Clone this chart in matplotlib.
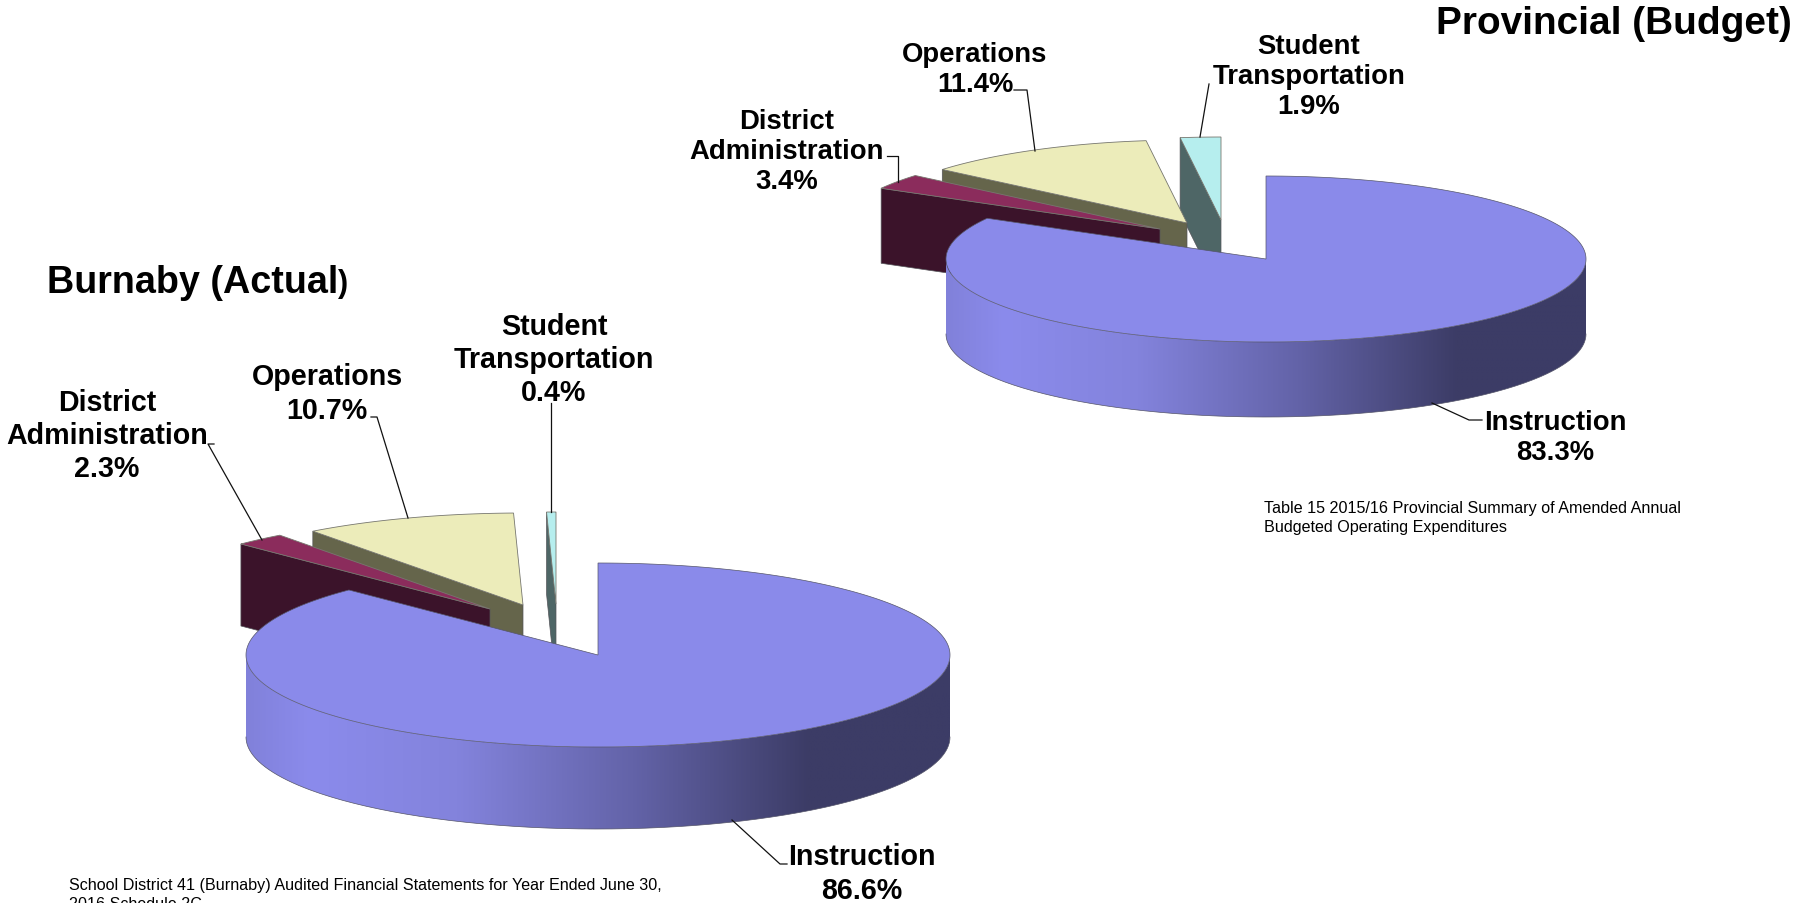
import numpy as np
import matplotlib
matplotlib.use('Agg')
import matplotlib.pyplot as plt
from matplotlib.colors import LinearSegmentedColormap
from matplotlib.patches import Polygon

plt.rcParams['font.family'] = ['Liberation Sans', 'DejaVu Sans']

# Data
categories = ['Instruction', 'District\nAdministration', 'Operations', 'Student\nTransportation']
burnaby_values = [86.6, 2.3, 10.7, 0.4]
provincial_values = [83.3, 3.4, 11.4, 1.9]

top_colors = ['#8a8aea', '#8b2c5c', '#ececba', '#b6eeee']
wall_colors = [None, '#3b132a', '#65654b', '#4e6666']
rim_cmap = LinearSegmentedColormap.from_list('rim', [
    (0.0, '#8181da'), (0.09, '#8b8bec'), (0.3, '#8383dc'),
    (0.55, '#6363a8'), (0.8, '#3c3c66'), (1.0, '#3c3c66')])

fig = plt.figure(figsize=(17.99, 9.04), dpi=100)
ax = fig.add_axes([0, 0, 1, 1])


def rim(cx, cy, rx, ry, a0, a1, n=200):
    a = np.radians(np.linspace(a0, a1, n))
    return np.column_stack([cx + rx * np.sin(a), cy - ry * np.cos(a)])


def pie3d(values, cx, cy, rx, ry, depth, offsets, nudges):
    edges = np.concatenate([[0], np.cumsum(values)]) / sum(values) * 360 + nudges
    # exploded slices, back to front
    for i in [3, 2, 1]:
        ox, oy = cx + offsets[i][0], cy + offsets[i][1]
        arc = rim(ox, oy, rx, ry, edges[i], edges[i + 1], 60)
        wall = [arc[0], (ox, oy), (ox, oy + depth), arc[0] + (0, depth)]
        z = (4 - i) * 2
        ax.add_patch(Polygon(wall, fc=wall_colors[i], ec='#55555a', lw=0.5, zorder=z))
        ax.add_patch(Polygon(np.vstack([[(ox, oy)], arc]), fc=top_colors[i], ec='#77776f', lw=0.6,
                             zorder=z + 1))
    # main slice
    lower = rim(cx, cy, rx, ry, 90, 270)
    side = np.vstack([lower, (lower + (0, depth))[::-1]])
    patch = Polygon(side, fc='none', ec='none', zorder=10)
    ax.add_patch(patch)
    im = ax.imshow(np.linspace(0, 1, 256)[None, :], cmap=rim_cmap, aspect='auto', zorder=10,
                   extent=(cx - rx, cx + rx, cy + ry + depth, cy - ry))
    im.set_clip_path(patch)
    ax.plot(*(lower + (0, depth)).T, color='#55556a', lw=0.5, zorder=11)
    top = np.vstack([[(cx, cy)], rim(cx, cy, rx, ry, edges[0], edges[1], 400)])
    ax.add_patch(Polygon(top, fc=top_colors[0], ec='#55556a', lw=0.5, zorder=12))


pie3d(burnaby_values, 598, 656, 352, 92, 82,
      [(0, 0), (-108, -46), (-75, -50), (-42, -51)], np.array([0, 3.2, 3.3, -0.1, 0]))
pie3d(provincial_values, 1266, 260, 320, 83, 75,
      [(0, 0), (-106, -30), (-79, -36), (-45, -39)], np.array([0, -0.5, -2, -0.5, 0]))

# leader lines
leaders = [
    [(214, 445), (208, 445), (262, 541)],
    [(371, 418), (377, 418), (408, 519)],
    [(551, 404), (551, 513)],
    [(787, 865), (780, 865), (732, 821)],
    [(887, 157), (898, 157), (898, 183)],
    [(1014, 91), (1027, 91), (1035, 152)],
    [(1209, 85), (1200, 138)],
    [(1482, 421), (1469, 421), (1432, 404)],
]
for pts in leaders:
    xs, ys = zip(*pts)
    ax.plot(xs, ys, color='#111111', lw=0.9, zorder=20)

# labels
burnaby_pos = [(862, 874), (107, 436), (327, 394), (554, 360)]
provincial_pos = [(1555, 438), (787, 152), (975, 70), (1309, 77)]
for names, vals, pos, fs, ls in [(categories, burnaby_values, burnaby_pos, 20.6, 1.24),
                                 (categories, provincial_values, provincial_pos, 19.8, 1.22)]:
    for name, v, (x, y) in zip(names, vals, pos):
        ax.text(x, y, f'{name}\n{v}%', ha='center', va='center', fontsize=fs,
                fontweight='bold', linespacing=ls, color='black', zorder=30)

ax.text(1792, 24, 'Provincial (Budget)', ha='right', va='center', fontsize=27.9, fontweight='bold')
burnaby_title = ax.text(47, 283, 'Burnaby (Actual', ha='left', va='center', fontsize=27.15, fontweight='bold')
ax.annotate(')', xy=(1, 0.47), xycoords=burnaby_title, va='center', ha='left', fontsize=22,
            fontweight='bold', annotation_clip=False)

ax.text(69, 886, 'School District 41 (Burnaby) Audited Financial Statements for Year Ended June 30,',
        ha='left', va='center', fontsize=11.6)
ax.text(69, 905, '2016 Schedule 2C', ha='left', va='center', fontsize=11.6)
ax.text(1264, 508, 'Table 15 2015/16 Provincial Summary of Amended Annual',
        ha='left', va='center', fontsize=11.65)
ax.text(1264, 528, 'Budgeted Operating Expenditures', ha='left', va='center', fontsize=11.65)

ax.set_xlim(0, 1799)
ax.set_ylim(904, 0)
ax.axis('off')
fig.savefig('out.png', dpi=100)
